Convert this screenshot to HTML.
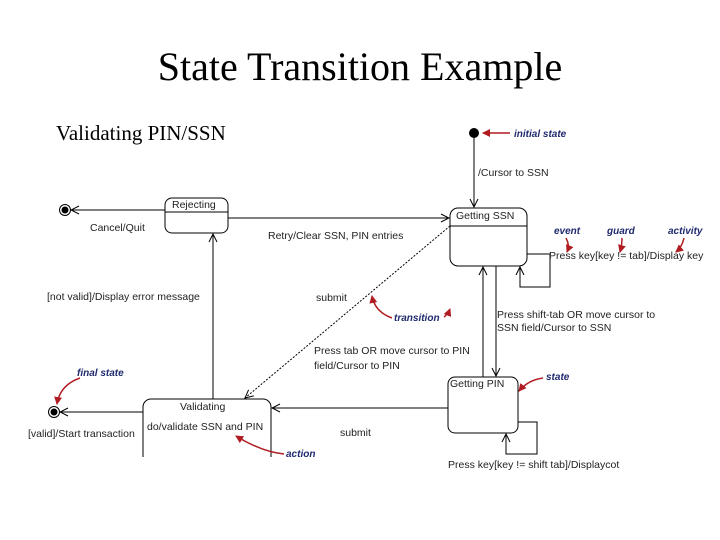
<!DOCTYPE html>
<html><head><meta charset="utf-8"><style>body{margin:0;background:#fff}svg{display:block}</style></head><body>
<svg width="720" height="540" viewBox="0 0 720 540" xmlns="http://www.w3.org/2000/svg">
<defs>
<marker id="o" markerWidth="10" markerHeight="10" refX="9" refY="5" orient="auto" markerUnits="userSpaceOnUse"><path d="M1,1 L9,5 L1,9" fill="none" stroke="#000" stroke-width="1"/></marker>
<marker id="r" markerWidth="8" markerHeight="8" refX="7" refY="4" orient="auto" markerUnits="userSpaceOnUse"><path d="M0,0 L8,4 L0,8 z" fill="#b01c22"/></marker>
</defs>
<text x="360" y="80" font-family="Liberation Serif,serif" font-size="40" text-anchor="middle">State Transition Example</text>
<text x="56" y="140" font-family="Liberation Serif,serif" font-size="21">Validating PIN/SSN</text>
<g fill="none" stroke="#000" stroke-width="1">
<rect x="450" y="208" width="77" height="58" rx="8"/><line x1="450" y1="226" x2="527" y2="226"/>
<rect x="165" y="198" width="63" height="35" rx="7"/><line x1="165" y1="212" x2="228" y2="212"/>
<rect x="448" y="377" width="70" height="56" rx="7"/>
<rect x="143" y="399" width="128" height="70" rx="8"/>
<line x1="474" y1="133" x2="474" y2="207" marker-end="url(#o)"/>
<line x1="165" y1="210" x2="71" y2="210" marker-end="url(#o)"/>
<line x1="228" y1="218" x2="449" y2="218" marker-end="url(#o)"/>
<polyline points="527,254 550,254 550,287 520,287 520,267" marker-end="url(#o)"/>
<line x1="483" y1="377" x2="483" y2="267" marker-end="url(#o)"/>
<line x1="496" y1="266" x2="496" y2="376" marker-end="url(#o)"/>
<polyline points="518,422 537,422 537,454 506,454 506,434" marker-end="url(#o)"/>
<line x1="448" y1="408" x2="272" y2="408" marker-end="url(#o)"/>
<line x1="143" y1="412" x2="60" y2="412" marker-end="url(#o)"/>
<line x1="213" y1="399" x2="213" y2="234" marker-end="url(#o)"/>
<line x1="450" y1="226" x2="245" y2="398" stroke-dasharray="2,1.5" marker-end="url(#o)"/>
</g>
<rect x="130" y="457" width="160" height="20" fill="#fff"/>
<circle cx="474" cy="133" r="5"/>
<circle cx="65" cy="210" r="5.5" fill="none" stroke="#000"/><circle cx="65" cy="210" r="3.5"/>
<circle cx="54" cy="412" r="5.5" fill="none" stroke="#000"/><circle cx="54" cy="412" r="3.5"/>
<g font-family="Liberation Sans,sans-serif" font-size="10.5" fill="#222">
<text x="456" y="219">Getting SSN</text>
<text x="172" y="208">Rejecting</text>
<text x="450" y="387">Getting PIN</text>
<text x="180" y="410">Validating</text>
<text x="147" y="430">do/validate SSN and PIN</text>
<text x="478" y="176">/Cursor to SSN</text>
<text x="90" y="231">Cancel/Quit</text>
<text x="268" y="239">Retry/Clear SSN, PIN entries</text>
<text x="549" y="259">Press key[key != tab]/Display key</text>
<text x="47" y="300">[not valid]/Display error message</text>
<text x="316" y="301">submit</text>
<text x="497" y="318">Press shift-tab OR move cursor to</text>
<text x="497" y="331">SSN field/Cursor to SSN</text>
<text x="314" y="354">Press tab OR move cursor to PIN</text>
<text x="314" y="369">field/Cursor to PIN</text>
<text x="340" y="436">submit</text>
<text x="28" y="437">[valid]/Start transaction</text>
<text x="448" y="468">Press key[key != shift tab]/Displaycot</text>
</g>
<g font-family="Liberation Sans,sans-serif" font-size="10" font-style="italic" font-weight="bold" fill="#1f2a6e">
<text x="514" y="137">initial state</text>
<text x="554" y="234">event</text>
<text x="607" y="234">guard</text>
<text x="668" y="234">activity</text>
<text x="394" y="321">transition</text>
<text x="77" y="376">final state</text>
<text x="546" y="380">state</text>
<text x="286" y="457">action</text>
</g>
<g fill="none" stroke="#b01c22" stroke-width="1.5">
<line x1="510" y1="133" x2="483" y2="133" marker-end="url(#r)"/>
<path d="M566,238 Q570,245 567,252" marker-end="url(#r)"/>
<path d="M622,238 Q622,245 620,252" marker-end="url(#r)"/>
<path d="M684,238 Q682,247 676,252" marker-end="url(#r)"/>
<path d="M392,318 Q375,312 372,296" marker-end="url(#r)"/>
<path d="M444,317 Q448,314 450,309" marker-end="url(#r)"/>
<path d="M80,378 Q60,385 57,404" marker-end="url(#r)"/>
<path d="M543,378 Q528,380 519,391" marker-end="url(#r)"/>
<path d="M284,454 Q262,452 236,436" marker-end="url(#r)"/>
</g>
</svg>
</body></html>
